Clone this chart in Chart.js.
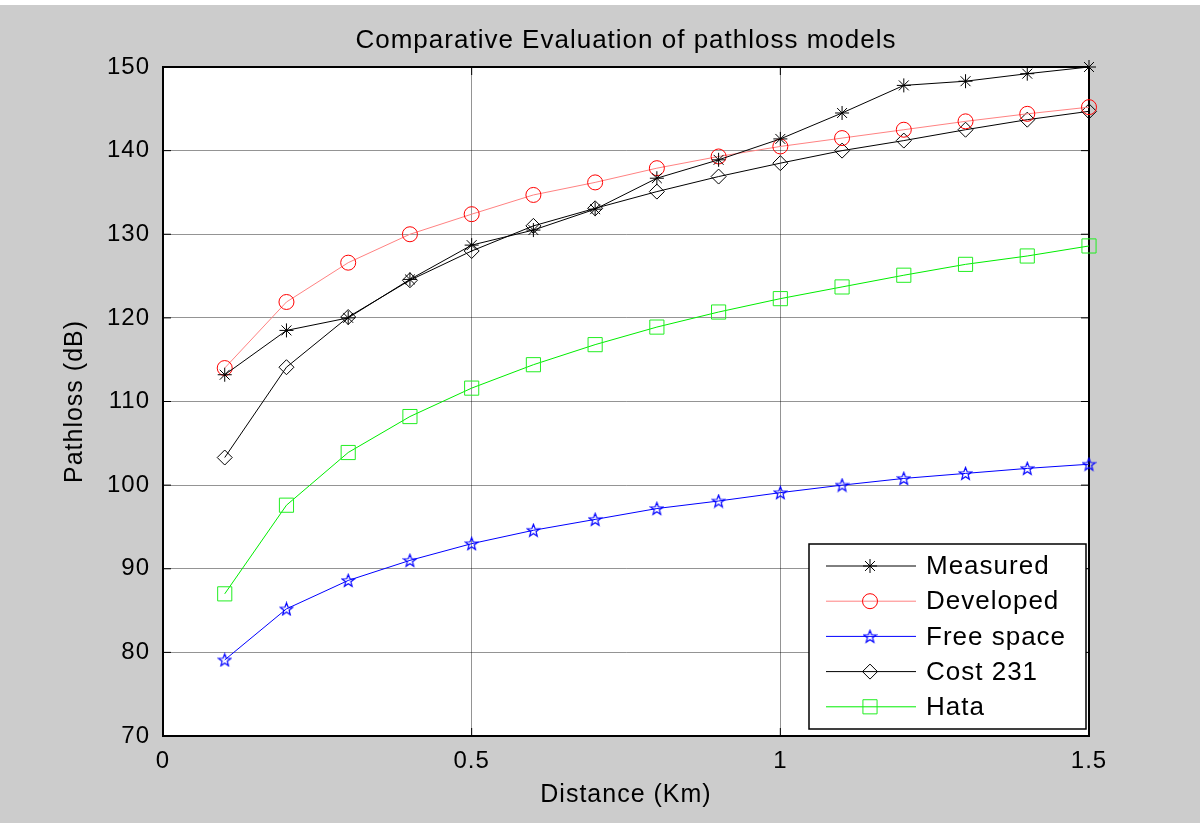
<!DOCTYPE html>
<html>
<head>
<meta charset="UTF-8">
<script src="https://cdn.jsdelivr.net/npm/chart.js"></script>
<title>Comparative Evaluation of pathloss models</title>
<style>
  body { margin: 0; background: #cccccc; }
  #wrap { position: relative; width: 1200px; height: 823px; }
  #topstrip { position: absolute; left: 0; top: 0; width: 1200px; height: 5px; background: #ffffff; }
</style>
</head>
<body>
<div id="wrap">
  <canvas id="pathloss" width="1200" height="823"></canvas>
  <div id="topstrip"></div>
</div>
<script>
// distance in Km
const distance = [0.1, 0.2, 0.3, 0.4, 0.5, 0.6, 0.7, 0.8, 0.9, 1.0, 1.1, 1.2, 1.3, 1.4, 1.5];

// pathloss in dB
const measured  = [113.2, 118.5, 120.0, 124.6, 128.7, 130.5, 133.0, 136.7, 138.9, 141.4, 144.5, 147.8, 148.3, 149.2, 150.0];
const developed = [114.0, 121.9, 126.6, 130.0, 132.4, 134.7, 136.2, 137.9, 139.3, 140.5, 141.5, 142.5, 143.5, 144.4, 145.2];
const freeSpace = [79.1, 85.2, 88.6, 91.0, 93.0, 94.6, 95.9, 97.2, 98.1, 99.1, 100.0, 100.8, 101.4, 102.0, 102.5];
const cost231   = [103.3, 114.1, 120.1, 124.5, 128.0, 131.0, 133.1, 135.1, 136.9, 138.5, 140.0, 141.2, 142.5, 143.7, 144.7];
const hata      = [87.0, 97.6, 103.9, 108.2, 111.6, 114.4, 116.8, 118.9, 120.7, 122.3, 123.7, 125.1, 126.4, 127.4, 128.6];

const seriesNames = ['Measured', 'Developed', 'Free space', 'Cost 231', 'Hata'];
const xTicks = [0, 0.5, 1, 1.5];
const yTicks = [70, 80, 90, 100, 110, 120, 130, 140, 150];

const FONT = '"Liberation Sans", Arial, sans-serif';

// pentagram marker (matlab 'p')
function makePentagram(color, size) {
  const c = document.createElement('canvas');
  c.width = size; c.height = size;
  const g = c.getContext('2d');
  const cx = size / 2, cy = size / 2 + 0.5, R = size / 2 - 1, r = R * 0.42;
  g.beginPath();
  for (let i = 0; i < 10; i++) {
    const ang = -Math.PI / 2 + i * Math.PI / 5;
    const rr = i % 2 === 0 ? R : r;
    const px = cx + rr * Math.cos(ang), py = cy + rr * Math.sin(ang);
    if (i === 0) g.moveTo(px, py); else g.lineTo(px, py);
  }
  g.closePath();
  g.strokeStyle = color;
  g.lineWidth = 1.2;
  g.stroke();
  return c;
}

function toPoints(ys) {
  return distance.map((d, i) => ({ x: d, y: ys[i] }));
}

const datasets = [
  { label: seriesNames[0], data: toPoints(measured), borderColor: '#000000', pointBorderColor: '#000000', pointStyle: 'star', pointRadius: 7 },
  { label: seriesNames[1], data: toPoints(developed), borderColor: 'rgb(255,130,130)', pointBorderColor: '#ff0000', pointStyle: 'circle', pointRadius: 7.5 },
  { label: seriesNames[2], data: toPoints(freeSpace), borderColor: '#0000ff', pointBorderColor: '#0000ff', pointStyle: makePentagram('#0000ff', 15), pointRadius: 7 },
  { label: seriesNames[3], data: toPoints(cost231), borderColor: '#000000', pointBorderColor: '#000000', pointStyle: 'rectRot', pointRadius: 7.5 },
  { label: seriesNames[4], data: toPoints(hata), borderColor: '#00ee00', pointBorderColor: '#22ee22', pointStyle: 'rect', pointRadius: 10 }
].map(ds => Object.assign({
  borderWidth: 1,
  pointBorderWidth: 1,
  pointBackgroundColor: 'rgba(0,0,0,0)',
  tension: 0,
  fill: false,
  clip: false
}, ds));

// wider text, like the matlab rendering
const spacingPlugin = {
  id: 'spacing',
  beforeLayout(chart) { chart.ctx.letterSpacing = '1px'; },
  beforeDraw(chart) { chart.ctx.letterSpacing = '1px'; }
};

// white axes, box, inward ticks, title and legend
const framePlugin = {
  id: 'frame',
  beforeDraw(chart) {
    const ctx = chart.ctx, a = chart.chartArea;
    ctx.save();
    ctx.fillStyle = '#ffffff';
    ctx.fillRect(a.left, a.top, a.right - a.left, a.bottom - a.top);
    ctx.restore();
  },
  beforeDatasetsDraw(chart) {
    const ctx = chart.ctx, a = chart.chartArea;
    const xs = chart.scales.x, ys = chart.scales.y;
    ctx.save();
    ctx.strokeStyle = '#000';
    ctx.lineWidth = 1;
    ctx.beginPath();
    yTicks.forEach(v => {
      const p = ys.getPixelForValue(v);
      ctx.moveTo(a.left, p); ctx.lineTo(a.left + 8, p);
      ctx.moveTo(a.right, p); ctx.lineTo(a.right - 8, p);
    });
    xTicks.forEach(v => {
      const p = xs.getPixelForValue(v);
      ctx.moveTo(p, a.bottom); ctx.lineTo(p, a.bottom - 8);
      ctx.moveTo(p, a.top); ctx.lineTo(p, a.top + 8);
    });
    ctx.stroke();
    ctx.lineWidth = 2;
    ctx.strokeRect(a.left, a.top, a.right - a.left, a.bottom - a.top);
    ctx.restore();
  },
  afterDraw(chart) {
    const ctx = chart.ctx, a = chart.chartArea;
    ctx.save();
    ctx.letterSpacing = '1px';
    // title
    ctx.fillStyle = '#000';
    ctx.font = '26px ' + FONT;
    ctx.textAlign = 'center';
    ctx.textBaseline = 'middle';
    ctx.fillText('Comparative Evaluation of pathloss models', (a.left + a.right) / 2, 41);

    // legend
    const w = 277, h = 185;
    const x0 = a.right - 3 - w, y0 = a.bottom - 7 - h;
    ctx.fillStyle = '#fff';
    ctx.fillRect(x0, y0, w, h);
    ctx.strokeStyle = '#000';
    ctx.lineWidth = 1.5;
    ctx.strokeRect(x0, y0, w, h);
    chart.data.datasets.forEach((ds, i) => {
      const y = y0 + 22 + i * 35.2;
      ctx.strokeStyle = ds.borderColor;
      ctx.lineWidth = 1;
      ctx.beginPath();
      ctx.moveTo(x0 + 17, y);
      ctx.lineTo(x0 + 107, y);
      ctx.stroke();
      ctx.strokeStyle = ds.pointBorderColor;
      ctx.fillStyle = 'rgba(0,0,0,0)';
      Chart.helpers.drawPoint(ctx, { pointStyle: ds.pointStyle, radius: ds.pointRadius, borderWidth: 1, rotation: 0 }, x0 + 61, y);
      ctx.fillStyle = '#000';
      ctx.font = '26px ' + FONT;
      ctx.textAlign = 'left';
      ctx.textBaseline = 'middle';
      ctx.fillText(ds.label, x0 + 117, y + 1);
    });
    ctx.restore();
  }
};

const config = {
  type: 'line',
  data: { datasets: datasets },
  options: {
    responsive: false,
    animation: false,
    layout: { padding: { top: 67, right: 111, left: 0, bottom: 0 } },
    plugins: {
      legend: { display: false },
      title: { display: false },
      tooltip: { enabled: false }
    },
    scales: {
      x: {
        type: 'linear',
        min: 0,
        max: 1.5,
        afterBuildTicks: scale => { scale.ticks = xTicks.map(v => ({ value: v })); },
        afterFit: scale => { scale.height = 87; },
        ticks: {
          callback: v => String(v),
          color: '#000',
          padding: 11,
          font: { family: FONT, size: 24 }
        },
        grid: { color: 'rgba(0,0,0,0.42)', lineWidth: 1, drawTicks: false },
        border: { color: '#000', width: 2 },
        title: {
          display: true,
          text: 'Distance (Km)',
          color: '#000',
          font: { family: FONT, size: 25 },
          padding: { top: 13, bottom: 13 }
        }
      },
      y: {
        min: 70,
        max: 150,
        afterBuildTicks: scale => { scale.ticks = yTicks.map(v => ({ value: v })); },
        afterFit: scale => { scale.width = 163; },
        ticks: {
          color: '#000',
          padding: 13,
          font: { family: FONT, size: 24 }
        },
        grid: { color: 'rgba(0,0,0,0.42)', lineWidth: 1, drawTicks: false },
        border: { color: '#000', width: 2 },
        title: {
          display: true,
          text: 'Pathloss (dB)',
          color: '#000',
          font: { family: FONT, size: 25 },
          padding: { top: 60, bottom: 60 }
        }
      }
    }
  },
  plugins: [spacingPlugin, framePlugin]
};

const pathlossChart = new Chart(document.getElementById('pathloss'), config);
</script>
</body>
</html>
